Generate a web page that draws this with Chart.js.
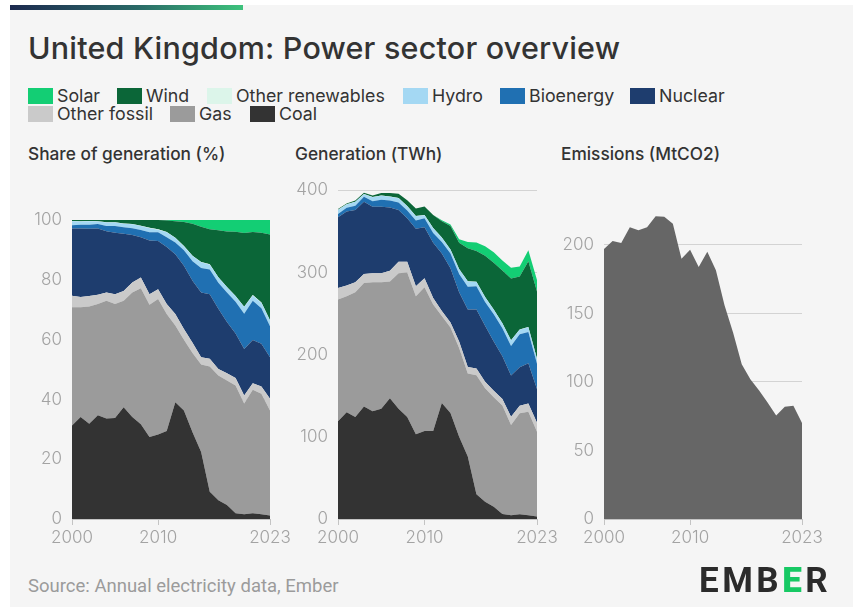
<!DOCTYPE html>
<html lang="en">
<head>
<meta charset="utf-8">
<title>United Kingdom: Power sector overview</title>
<script src="https://cdn.jsdelivr.net/npm/chart.js@4.4.1/dist/chart.umd.min.js"></script>
<style>
  html, body { margin: 0; padding: 0; background: #fff; }
  body { width: 853px; height: 607px; position: relative; overflow: hidden; font-family: Inter, "Noto Sans", sans-serif; }
  .card { position: absolute; left: 10px; top: 5px; right: 0; bottom: 0; background: #f5f5f5; }
  .topbar { position: absolute; left: 10px; top: 5px; width: 233px; height: 5px;
            background: linear-gradient(90deg, #1c2a4f 0%, #2a6a67 55%, #3dc27c 100%); }
  h1 { position: absolute; left: 28px; top: 29px; margin: 0; font-size: 30.5px; font-weight: 500; color: #333; white-space: nowrap; letter-spacing: 0.2px; }
  .item { position: absolute; font-size: 17.8px; line-height: 18px; color: #333; white-space: nowrap; }
  .item i { position: absolute; left: 0; top: 1px; width: 25px; height: 16px; }
  .item span { position: absolute; left: 29px; top: 0; }
  .sub { position: absolute; top: 143px; font-size: 17.3px; font-weight: 500; color: #333; white-space: nowrap; }
  .box { position: absolute; top: 170px; }
  .source { position: absolute; left: 28px; top: 575px; font-family: Roboto, sans-serif; font-size: 18.5px; font-weight: 400; color: #9b9b9b; white-space: nowrap; }
  .logo { position: absolute; left: 699px; top: 560px; font-family: Roboto, sans-serif; font-weight: 700;
          font-size: 35px; letter-spacing: 3.5px; color: #2b2b2b; }
  .logo b { color: #17c964; }
</style>
</head>
<body>
<div class="card"></div>
<div class="topbar"></div>
<h1>United Kingdom: Power sector overview</h1>

<div class="item" style="left:28px;top:87px"><i style="background:#13ce74"></i><span>Solar</span></div>
<div class="item" style="left:117px;top:87px"><i style="background:#0b6638"></i><span>Wind</span></div>
<div class="item" style="left:207px;top:87px"><i style="background:#dcf5ea"></i><span>Other renewables</span></div>
<div class="item" style="left:403px;top:87px"><i style="background:#a4d8f3"></i><span>Hydro</span></div>
<div class="item" style="left:500px;top:87px"><i style="background:#2070b2"></i><span>Bioenergy</span></div>
<div class="item" style="left:630px;top:87px"><i style="background:#1e3d6e"></i><span>Nuclear</span></div>
<div class="item" style="left:28px;top:105px"><i style="background:#cacaca"></i><span>Other fossil</span></div>
<div class="item" style="left:170px;top:105px"><i style="background:#9b9b9b"></i><span>Gas</span></div>
<div class="item" style="left:250px;top:105px"><i style="background:#333333"></i><span>Coal</span></div>

<div class="sub" style="left:28px">Share of generation (%)</div>
<div class="sub" style="left:295px">Generation (TWh)</div>
<div class="sub" style="left:561px">Emissions (MtCO2)</div>

<div class="box" style="left:20px"><canvas id="graficoShare" width="275" height="389"></canvas></div>
<div class="box" style="left:286px"><canvas id="graficoGen" width="276" height="389"></canvas></div>
<div class="box" style="left:552px"><canvas id="graficoEmis" width="275" height="389"></canvas></div>

<div class="source">Source: Annual electricity data, Ember</div>
<div class="logo">EMB<b>E</b>R</div>

<script>
const years = [2000, 2001, 2002, 2003, 2004, 2005, 2006, 2007, 2008, 2009, 2010, 2011,
               2012, 2013, 2014, 2015, 2016, 2017, 2018, 2019, 2020, 2021, 2022, 2023];
const xTicks = [2000, 2010, 2023];

// share of generation (%)
const shareCoal = [31.3, 34.1, 31.9, 34.7, 33.6, 33.8, 37.4, 34.1, 31.7, 27.4, 28.3, 29.4, 39.1, 36.3, 29, 22.4, 9.1, 6.3, 4.7, 1.9, 1.6, 1.9, 1.6, 1.2];
const shareGas = [39.5, 36.7, 39.2, 37.2, 39.4, 38.1, 35.6, 41.7, 45.5, 44.3, 45.3, 39.2, 25.6, 23.7, 26.5, 29.3, 41.9, 41.7, 41.6, 42.8, 37, 41.3, 40.3, 35.1];
const shareOtherFossil = [3.9, 3.5, 3.5, 3.1, 2.8, 3.3, 3.3, 3.3, 3.6, 3.5, 3.3, 3.3, 3.9, 3.6, 3.5, 2.4, 2.6, 2.2, 2.5, 2.5, 2.7, 2.2, 2.4, 3.9];
const shareNuclear = [22.5, 22.9, 22.5, 22.2, 20.5, 20.6, 19.1, 15.9, 13.5, 18, 16.1, 19.1, 20, 21.1, 20.7, 21.7, 21.6, 20.1, 17.1, 14.9, 15.6, 14.5, 14.3, 13.9];
const shareBio = [1.1, 1.2, 1.3, 1.5, 1.7, 2.2, 2.2, 2.3, 2.4, 2.7, 2.9, 3.3, 3.9, 5.2, 6.5, 8.2, 8.3, 8.7, 9.9, 10.6, 11.8, 13.1, 11.9, 10.4];
const shareHydro = [1.3, 1.1, 1.2, 0.8, 1.2, 1.2, 1.2, 1.3, 1.3, 1.4, 0.9, 1.6, 1.5, 1.3, 1.8, 1.9, 1.6, 1.8, 1.7, 1.8, 2.2, 1.8, 1.8, 1.9];
const shareOtherRen = [0.1, 0.1, 0.1, 0.1, 0.1, 0.1, 0.1, 0.1, 0.1, 0.1, 0.1, 0.1, 0.1, 0.1, 0.1, 0.1, 0.1, 0.1, 0.1, 0.1, 0.1, 0.1, 0.1, 0.1];
const shareWind = [0.3, 0.4, 0.3, 0.4, 0.7, 0.7, 1.1, 1.3, 1.9, 2.6, 3.1, 3.9, 5.5, 8.1, 10.7, 11.8, 11.7, 15.7, 18.6, 21.5, 24.7, 21.1, 23.4, 28.7];
const shareSolar = [0, 0, 0, 0, 0, 0, 0, 0, 0, 0, 0, 0.1, 0.4, 0.6, 1.2, 2.2, 3.1, 3.4, 3.8, 3.9, 4.3, 4, 4.2, 4.8];

// generation (TWh)
const genCoal = [119, 130, 124, 137, 131, 134, 147, 134, 124, 103, 107, 107, 141, 129, 100, 76, 30, 21, 15, 6, 4.5, 5.7, 4.5, 3];
const genGas = [148, 141, 152, 150, 157, 154, 142, 165, 176, 168, 175, 154, 106, 104, 108, 101, 145, 138, 133, 132, 110, 123, 126, 103];
const genOtherFossil = [14, 13, 12, 11, 11, 11, 13, 14, 13, 12, 11, 8, 6, 6, 8, 8, 8, 8, 8, 8, 10, 9, 10, 11];
const genNuclear = [86, 90, 88, 88, 81, 81, 77, 63, 53, 70, 62, 67, 70, 66, 60, 70, 72, 68, 60, 52, 50, 47, 49, 41];
const genBio = [4, 4.5, 5, 6, 6.5, 8.5, 8.5, 9, 9.3, 10, 11, 12, 14, 18, 22, 27.5, 28, 29, 33, 34, 36, 40, 38, 31];
const genHydro = [5, 4, 4.8, 3.2, 4.8, 4.9, 4.6, 5.1, 5.1, 5.2, 3.6, 5.7, 5.3, 4.7, 5.9, 6.3, 5.4, 5.9, 5.5, 5.9, 6.8, 5.5, 5.7, 5.5];
const genOtherRen = [0.3, 0.3, 0.3, 0.3, 0.3, 0.3, 0.3, 0.3, 0.3, 0.3, 0.3, 0.3, 0.3, 0.3, 0.3, 0.3, 0.3, 0.3, 0.3, 0.3, 0.3, 0.3, 0.3, 0.3];
const genWind = [0.9, 1, 1.3, 1.3, 1.9, 2.9, 4.2, 5.3, 7.1, 9.3, 10.2, 15.7, 19.6, 28.4, 32, 40.3, 37.3, 50, 57, 64, 75, 64.5, 80, 82];
const genSolar = [0, 0, 0, 0, 0, 0, 0, 0, 0, 0, 0.04, 0.25, 1.35, 2, 4, 7.5, 10.4, 11.5, 12.7, 12.4, 13.2, 12.1, 13.4, 14];

// emissions (MtCO2)
const emissions = [197, 203, 201.5, 213, 210.7, 213, 221, 220.6, 215.5, 190, 196.6, 184, 195, 181.6, 156, 136, 113, 102, 94, 85, 75.6, 82, 82.7, 70];

const shareTicks = [0, 20, 40, 60, 80, 100];
const genTicks = [0, 100, 200, 300, 400];
const emisTicks = [0, 50, 100, 150, 200];

const fuels = [
  { name: 'Coal', color: '#333333' },
  { name: 'Gas', color: '#9b9b9b' },
  { name: 'Other fossil', color: '#cacaca' },
  { name: 'Nuclear', color: '#1e3d6e' },
  { name: 'Bioenergy', color: '#2070b2' },
  { name: 'Hydro', color: '#a4d8f3' },
  { name: 'Other renewables', color: '#dcf5ea' },
  { name: 'Wind', color: '#0b6638' },
  { name: 'Solar', color: '#13ce74' }
];

const tickFont = { family: 'Inter', size: 17, weight: 300 };

function areaSet(label, data, color, i) {
  return {
    label: label,
    data: data,
    backgroundColor: color,
    borderWidth: 0,
    pointRadius: 0,
    tension: 0,
    fill: i === 0 ? 'origin' : '-1'
  };
}

function opcoes(max, ticks, stacked) {
  return {
    responsive: false,
    animation: false,
    layout: { padding: { top: 19, right: 25, left: 0, bottom: 0 } },
    plugins: { legend: { display: false }, tooltip: { enabled: false } },
    scales: {
      x: {
        type: 'linear', min: 2000, max: 2023,
        afterBuildTicks: axis => { axis.ticks = xTicks.map(v => ({ value: v })); },
        afterFit: axis => { axis.height = 40; },
        grid: { drawOnChartArea: false, tickLength: 6, color: '#c4c4c4' },
        border: { color: '#c4c4c4' },
        ticks: { color: '#a3a3a3', font: tickFont, padding: 3, maxRotation: 0, autoSkip: false,
                 callback: v => String(v) }
      },
      y: {
        stacked: stacked, min: 0, max: max,
        afterBuildTicks: axis => { axis.ticks = ticks.map(v => ({ value: v })); },
        afterFit: axis => { axis.width = 52; },
        grid: { color: '#d3d3d3', drawTicks: false },
        border: { display: false },
        ticks: { color: '#a3a3a3', font: tickFont, padding: 10 }
      }
    }
  };
}

const shareData = [shareCoal, shareGas, shareOtherFossil, shareNuclear, shareBio, shareHydro, shareOtherRen, shareWind, shareSolar];
const genData = [genCoal, genGas, genOtherFossil, genNuclear, genBio, genHydro, genOtherRen, genWind, genSolar];

new Chart(document.getElementById('graficoShare'), {
  type: 'line',
  data: { labels: years, datasets: fuels.map((f, i) => areaSet(f.name, shareData[i], f.color, i)) },
  options: opcoes(110, shareTicks, true)
});

new Chart(document.getElementById('graficoGen'), {
  type: 'line',
  data: { labels: years, datasets: fuels.map((f, i) => areaSet(f.name, genData[i], f.color, i)) },
  options: opcoes(400, genTicks, true)
});

new Chart(document.getElementById('graficoEmis'), {
  type: 'line',
  data: { labels: years, datasets: [areaSet('Emissions', emissions, '#666666', 0)] },
  options: opcoes(240, emisTicks, false)
});
</script>
</body>
</html>
